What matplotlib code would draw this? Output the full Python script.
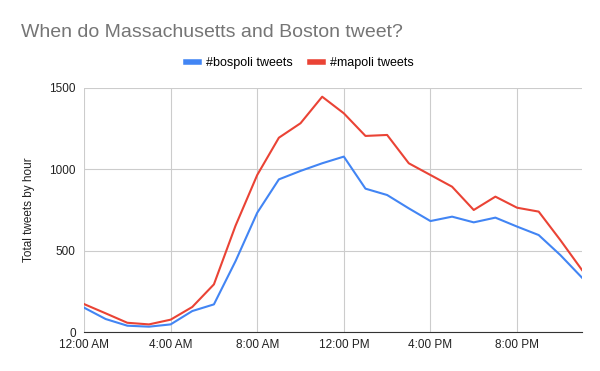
import numpy as np
import matplotlib.pyplot as plt
from matplotlib.lines import Line2D

plt.rcParams['font.family'] = ['Liberation Sans', 'DejaVu Sans']

# hourly totals, 12 AM .. 11 PM
hours = list(range(24))
bospoli = [150, 80, 39, 33, 47, 129, 170, 436, 733, 938, 990, 1037,
           1078, 881, 842, 760, 682, 709, 674, 703, 648, 596, 473, 334]
mapoli = [172, 115, 57, 47, 76, 154, 293, 654, 965, 1194, 1283, 1446,
          1344, 1205, 1211, 1037, 965, 893, 750, 832, 764, 740, 565, 381]
tick_hours = [0, 4, 8, 12, 16, 20]
tick_labels = ['12:00 AM', '4:00 AM', '8:00 AM', '12:00 PM', '4:00 PM', '8:00 PM']
y_ticks = [0, 500, 1000, 1500]

blue = '#4285F4'
red = '#EA4335'

fig = plt.figure(figsize=(6, 3.71), dpi=100)
ax = fig.add_axes([0.14, 0.105, 0.83, 0.658])

ax.plot(hours, bospoli, color=blue, lw=1.5, label='#bospoli tweets')
ax.plot(hours, mapoli, color=red, lw=1.5, label='#mapoli tweets')

ax.set_xlim(0, 23)
ax.set_ylim(0, 1500)
ax.set_xticks(tick_hours)
ax.set_xticklabels(tick_labels)
ax.set_yticks(y_ticks)
ax.grid(True, color='#cccccc', lw=0.8)
ax.set_axisbelow(True)
for s in ['top', 'right', 'left']:
    ax.spines[s].set_visible(False)
ax.spines['bottom'].set_color('#333333')
ax.tick_params(length=0, labelsize=8.5, colors='#222222')
ax.tick_params(axis='y', pad=6)
ax.tick_params(axis='x', pad=5)

ax.set_ylabel('Total tweets by hour', fontsize=8.5, color='#222222', labelpad=10)

# title
fig.text(0.035, 0.9, 'When do Massachusetts and Boston tweet?', fontsize=14,
         color='#757575', va='baseline', ha='left')

handles = [Line2D([], [], color=blue, lw=4), Line2D([], [], color=red, lw=4)]
fig.legend(handles, ['#bospoli tweets', '#mapoli tweets'], loc='center',
           bbox_to_anchor=(0.5, 0.83), ncol=2, frameon=False, fontsize=9,
           handlelength=1.0, handletextpad=0.6, columnspacing=1.4)

fig.savefig('out.png', dpi=100)
